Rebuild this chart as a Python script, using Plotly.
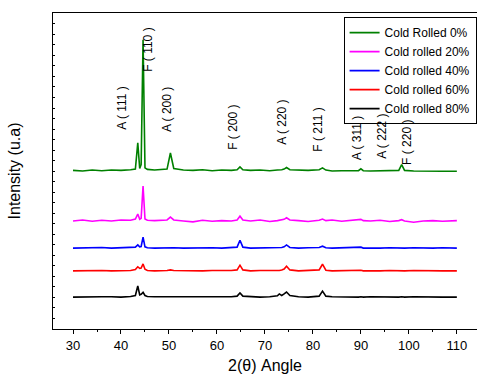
import plotly.graph_objects as go

# 2-theta sampling points (degrees)
two_theta = [30, 32, 34, 36, 38, 40, 42, 43.0, 43.5, 43.9, 44.2, 44.6, 45.0, 45.5, 47,
             49.6, 50.3, 51.0, 53, 55, 57, 59, 61, 63, 64.2, 64.8, 65.4, 67, 69, 71,
             72.6, 73.0, 73.5, 74.0, 74.5, 75.2, 77, 79, 81.3, 82.0, 82.7, 84, 86, 88,
             89.5, 90.0, 90.5, 92, 94, 96, 97.9, 98.5, 99.1, 101, 103, 105, 107, 110]

# relative intensities (arbitrary units)
int_0 = [0.2, 0.0, 0.3, 0.1, 0.3, 0.2, 0.4, 0.6, 8.9, 0.8, 2.0, 41.5, 1.0, 0.5, 0.3,
         0.6, 5.7, 0.8, 0.3, 0.2, 0.4, 0.1, 0.3, 0.2, 0.4, 1.3, 0.4, 0.2, 0.3, 0.1,
         0.3, 0.3, 0.4, 0.6, 1.1, 0.4, 0.3, 0.2, 0.4, 1.0, 0.3, 0.0, 0.1, 0.0,
         0.1, 0.7, 0.1, 0.0, 0.1, 0.0, 0.2, 2.0, 0.2, 0.0, -0.1, 0.0, -0.1, -0.1]
int_20 = [0.0, 0.3, -0.1, 0.2, 0.0, 0.3, 0.2, 0.6, 2.2, 0.5, 0.8, 11.0, 0.6, 0.2, 0.1,
          0.3, 1.2, 0.3, 0.0, -0.3, 0.2, -0.1, 0.1, 0.0, 0.3, 1.5, 0.3, 0.0, 0.3, -0.2,
          0.1, 0.2, 0.3, 0.5, 1.0, 0.3, 0.1, -0.2, 0.2, 0.6, 0.1, 0.3, -0.1, 0.2,
          0.2, 0.5, 0.1, 0.0, 0.2, -0.2, 0.1, 0.4, 0.0, -0.4, 0.0, 0.1, -0.1, 0.1]
int_40 = [0.0, 0.1, 0.0, 0.2, 0.0, 0.1, 0.1, 0.3, 1.0, 0.4, 0.5, 3.5, 0.4, 0.1, 0.0,
          0.1, 0.3, 0.1, 0.0, 0.1, 0.0, 0.1, 0.0, 0.1, 0.3, 2.5, 0.3, 0.0, 0.1, 0.0,
          0.1, 0.1, 0.2, 0.4, 1.0, 0.2, 0.0, 0.1, 0.2, 0.6, 0.1, 0.0, 0.1, 0.0,
          0.1, 0.3, 0.0, 0.1, 0.0, 0.1, 0.0, 0.1, 0.0, 0.1, 0.0, 0.0, 0.1, 0.0]
int_60 = [0.0, 0.1, 0.0, 0.1, 0.0, 0.1, 0.1, 0.4, 1.3, 0.8, 0.9, 2.2, 0.5, 0.1, 0.0,
          0.1, 0.3, 0.1, 0.0, 0.1, 0.0, 0.1, 0.0, 0.1, 0.3, 1.8, 0.3, 0.0, 0.1, 0.0,
          0.1, 0.1, 0.3, 0.6, 1.5, 0.3, 0.0, 0.1, 0.3, 2.1, 0.2, 0.0, 0.1, 0.0,
          0.1, 0.2, 0.0, 0.1, 0.0, 0.1, 0.0, 0.1, 0.0, 0.1, 0.0, 0.1, 0.0, 0.0]
int_80 = [0.0, 0.1, 0.0, 0.1, 0.1, 0.0, 0.2, 0.5, 3.5, 0.7, 0.9, 1.5, 0.5, 0.2, 0.1,
          0.1, 0.2, 0.1, 0.0, 0.1, 0.0, 0.1, 0.0, 0.1, 0.3, 1.3, 0.3, 0.1, 0.0, 0.1,
          0.4, 1.0, 0.5, 1.0, 1.6, 0.5, 0.1, 0.0, 0.3, 1.9, 0.3, 0.1, 0.0, 0.1,
          0.0, 0.1, 0.0, 0.1, 0.0, 0.1, 0.0, 0.1, 0.0, 0.1, 0.0, 0.1, 0.0, 0.0]

series_names = ["Cold Rolled 0%", "Cold rolled 20%", "Cold rolled 40%",
                "Cold rolled 60%", "Cold rolled 80%"]
series_values = [int_0, int_20, int_40, int_60, int_80]
series_offsets = [50.0, 34.2, 25.6, 18.4, 10.1]
series_colors = ["#008000", "#ff00ff", "#0000ff", "#ff0000", "#000000"]

# peak labels
peak_labels = ["A ( 111 )", "F ( 110 )", "A ( 200 )", "F ( 200 )", "A ( 220 )",
               "F ( 211 )", "A ( 311 )", "A ( 222 )", "F ( 220 )"]
peak_label_x = [40.2, 45.6, 49.6, 63.3, 73.5, 81.0, 89.2, 94.4, 99.6]
peak_label_y = [70.0, 88.3, 69.3, 63.9, 65.5, 63.0, 60.4, 60.8, 59.2]

x_tick_vals = [30, 40, 50, 60, 70, 80, 90, 100, 110]
x_tick_text = ["30", "40", "50", "60", "70", "80", "90", "100", "110"]

FONT = "Liberation Sans, Arial, sans-serif"

fig = go.Figure()
for name, vals, off, col in zip(series_names, series_values, series_offsets, series_colors):
    fig.add_trace(go.Scatter(
        x=two_theta, y=[v + off for v in vals], mode="lines", name=name,
        line=dict(color=col, width=1.6)))

for t, px_, py_ in zip(peak_labels, peak_label_x, peak_label_y):
    fig.add_annotation(x=px_, y=py_, text=t, textangle=-90, showarrow=False,
                       font=dict(family=FONT, size=12, color="black"))

fig.update_layout(
    width=477, height=382,
    margin=dict(l=53, r=0, t=13, b=53, autoexpand=False),
    paper_bgcolor="white", plot_bgcolor="white",
    font=dict(family=FONT, color="black"),
    showlegend=True,
    legend=dict(x=0.999, y=0.987, xanchor="right", yanchor="top",
                bordercolor="black", borderwidth=1, bgcolor="white",
                font=dict(family=FONT, size=12), tracegroupgap=0,
                itemwidth=30),
    xaxis=dict(range=[25.83, 114.2], showgrid=False, zeroline=False, automargin=False,
               showline=True, linecolor="black", linewidth=1, mirror=True,
               ticks="outside", ticklen=4, tickcolor="black",
               tickvals=x_tick_vals, ticktext=x_tick_text,
               tickfont=dict(family=FONT, size=13),
               minor=dict(ticks="outside", ticklen=2, tickcolor="black", dtick=5, tick0=0),
               title=dict(text="2(θ) Angle", font=dict(family=FONT, size=16), standoff=8)),
    yaxis=dict(range=[0, 100], showgrid=False, zeroline=False, automargin=False,
               showline=True, linecolor="black", linewidth=1,
               ticks="inside", ticklen=2, tickcolor="black", dtick=3.33,
               showticklabels=False,
               title=dict(text="Intensity (u.a)", font=dict(family=FONT, size=16), standoff=27)),
)

fig.write_html("out.html", config={"displayModeBar": False},
               post_script="document.body.style.margin='0';document.body.style.padding='0';")
